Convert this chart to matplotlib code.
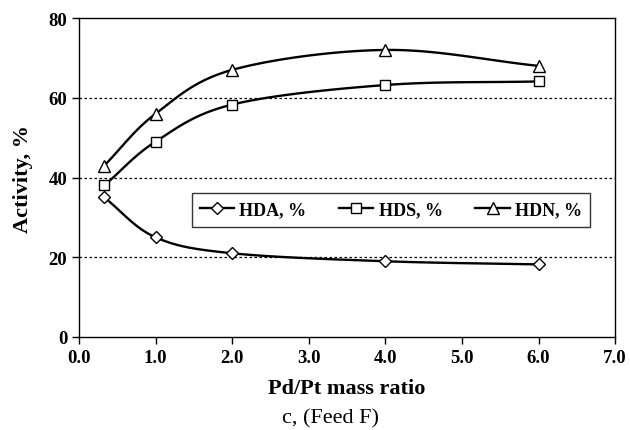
import numpy as np
import matplotlib
matplotlib.use("Agg")
import matplotlib.pyplot as plt

plt.rcParams["font.family"] = ["Liberation Serif", "DejaVu Serif"]

# Data
ratio = [0.33, 1.0, 2.0, 4.0, 6.0]
hda = [35.0, 25.0, 21.0, 19.0, 18.2]
hds = [38.0, 49.0, 58.3, 63.2, 64.1]
hdn = [43.0, 56.0, 67.0, 72.0, 68.0]
x_ticks = [0, 1, 2, 3, 4, 5, 6, 7]
y_ticks = [0, 20, 40, 60, 80]


def smooth(x, y, n=30):
    # Catmull-Rom style curve through the points (like Excel's smoothed line)
    x = np.asarray(x, float)
    y = np.asarray(y, float)
    px = np.concatenate([[2 * x[0] - x[1]], x, [2 * x[-1] - x[-2]]])
    py = np.concatenate([[2 * y[0] - y[1]], y, [2 * y[-1] - y[-2]]])
    xs, ys = [], []
    t = np.linspace(0, 1, n)
    for i in range(1, len(px) - 2):
        for p, out in ((px, xs), (py, ys)):
            p0, p1, p2, p3 = p[i - 1], p[i], p[i + 1], p[i + 2]
            out.extend(0.5 * (2 * p1 + (-p0 + p2) * t
                              + (2 * p0 - 5 * p1 + 4 * p2 - p3) * t ** 2
                              + (-p0 + 3 * p1 - 3 * p2 + p3) * t ** 3))
    return xs, ys


fig = plt.figure(figsize=(6.3, 4.31), dpi=100)
ax = fig.add_axes([0.1254, 0.2158, 0.851, 0.74])

series = [("HDA, %", hda, "D", 6), ("HDS, %", hds, "s", 7.5), ("HDN, %", hdn, "^", 8)]
for label, vals, mk, ms in series:
    sx, sy = smooth(ratio, vals)
    ax.plot(sx, sy, color="black", lw=1.7, zorder=2)
    ax.plot(ratio, vals, ls="none", marker=mk, ms=ms, mfc="white", mec="black",
            mew=1.0, zorder=3)
    ax.plot([], [], color="black", lw=1.7, marker=mk, ms=ms, mfc="white",
            mec="black", mew=1.0, label=label)

ax.set_xlim(0, 7)
ax.set_ylim(0, 80)
ax.set_xticks(x_ticks)
ax.set_xticklabels([f"{v:.1f}" for v in x_ticks])
ax.set_yticks(y_ticks)
for v in y_ticks[1:-1]:
    ax.axhline(v, color="black", lw=0.9, ls=(0, (2, 2)), zorder=1)

for s in ax.spines.values():
    s.set_linewidth(1.0)
ax.tick_params(direction="out", length=5, width=1.0, labelsize=13.5)
for lbl in ax.get_xticklabels() + ax.get_yticklabels():
    lbl.set_fontweight("bold")

ax.set_ylabel("Activity, %", fontsize=16, fontweight="bold", labelpad=11)
ax.set_xlabel("Pd/Pt mass ratio", fontsize=16, fontweight="bold", labelpad=9)
fig.text(0.525, 0.005, "c, (Feed F)", fontsize=16, ha="center", va="bottom")

leg = ax.legend(loc="center", bbox_to_anchor=(0.582, 0.398), ncol=3,
                prop={"weight": "bold", "size": 13},
                frameon=True, fancybox=False, edgecolor="black",
                handlelength=1.9, handletextpad=0.3, columnspacing=1.8,
                borderpad=0.45)
leg.get_frame().set_linewidth(1.0)

fig.savefig("out.png", dpi=100)
